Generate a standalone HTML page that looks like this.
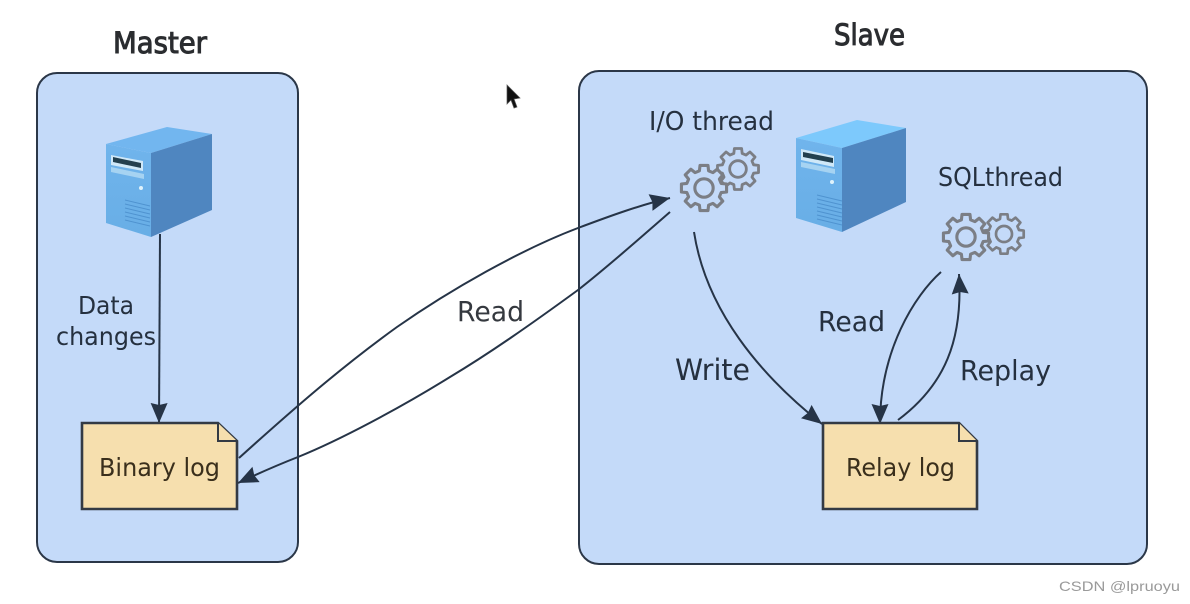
<!DOCTYPE html>
<html>
<head>
<meta charset="utf-8">
<style>
html,body{margin:0;padding:0;background:#fff;width:1190px;height:604px;overflow:hidden}
svg{display:block}
text{font-family:"DejaVu Sans","Liberation Sans",sans-serif;fill:#25303f}
</style>
</head>
<body>
<svg width="1190" height="604" viewBox="0 0 1190 604" xmlns="http://www.w3.org/2000/svg">
<defs>
<marker id="a" markerUnits="userSpaceOnUse" markerWidth="24" markerHeight="20" refX="20" refY="9" orient="auto">
<path d="M0 0.5L20 9L0 17.5L2 9Z" fill="#263447"/>
</marker>
<linearGradient id="f" x1="0" y1="0" x2="0" y2="1"><stop offset="0" stop-color="#70b4ec"/><stop offset="1" stop-color="#68aee6"/></linearGradient>
<symbol id="g" viewBox="-24 -24 48 48" overflow="visible">
<path d="M14.97 -4.01L19.7 -3.47L19.7 3.47L14.97 4.01L13.42 7.75L16.38 11.47L11.47 16.38L7.75 13.42L4.01 14.97L3.47 19.7L-3.47 19.7L-4.01 14.97L-7.75 13.42L-11.47 16.38L-16.38 11.47L-13.42 7.75L-14.97 4.01L-19.7 3.47L-19.7 -3.47L-14.97 -4.01L-13.42 -7.75L-16.38 -11.47L-11.47 -16.38L-7.75 -13.42L-4.01 -14.97L-3.47 -19.7L3.47 -19.7L4.01 -14.97L7.75 -13.42L11.47 -16.38L16.38 -11.47L13.42 -7.75Z" fill="#c4daf9" stroke="#7b7e85" stroke-width="2.7" stroke-linejoin="round"/>
<circle r="8" fill="none" stroke="#7b7e85" stroke-width="2.7"/>
</symbol>
</defs>

<rect x="37" y="73" width="261" height="489" rx="20" fill="#c4daf9" stroke="#2b3748" stroke-width="2"/>
<rect x="579" y="71" width="568" height="493" rx="20" fill="#c4daf9" stroke="#2b3748" stroke-width="2"/>

<text x="113" y="53" font-size="29" textLength="94" lengthAdjust="spacingAndGlyphs" style="fill:#2b2d30;stroke:#2b2d30;stroke-width:1">Master</text>
<text x="834" y="45" font-size="29" textLength="71" lengthAdjust="spacingAndGlyphs" style="fill:#2b2d30;stroke:#2b2d30;stroke-width:1">Slave</text>

<!-- Master server -->
<polygon points="106,144 167,127 212,134 151,153" fill="#72b6ef"/>
<polygon points="106,144 151,153 151,237 106,223" fill="url(#f)"/>
<polygon points="151,153 212,134 212,210 151,237" fill="#4f86c0"/>
<polygon points="111,155 143,161 143,171 111,165" fill="#cfe8f8"/>
<polygon points="113,157 141,163 141,168 113,162" fill="#23404f"/>
<polygon points="111,167 144,174 144,179 111,172" fill="#a6d3f2"/>
<circle cx="141" cy="188" r="2" fill="#dff2fb"/>
<path d="M125 200L150 206M125 204L150 210M125 208L150 214M125 212L150 218M125 216L150 222M125 220L150 226" stroke="#4f93d0" stroke-width="1"/>

<!-- Slave server -->
<polygon points="796,138 857,120 906,128 842,148" fill="#7dc9fc"/>
<polygon points="796,138 842,148 842,232 796,218" fill="url(#f)"/>
<polygon points="842,148 906,128 906,202 842,232" fill="#4f86c0"/>
<polygon points="801,149 834,156 834,167 801,160" fill="#cfe8f8"/>
<polygon points="803,152 833,158 833,163 803,157" fill="#23404f"/>
<polygon points="801,162 835,169 835,174 801,167" fill="#a6d3f2"/>
<circle cx="832" cy="182" r="2" fill="#dff2fb"/>
<path d="M817 195L842 201M817 199L842 205M817 203L842 209M817 207L842 213M817 211L842 217M817 215L842 221M817 219L842 225" stroke="#4f93d0" stroke-width="1"/>

<!-- Gears -->
<use href="#g" x="713" y="144" width="50" height="50"/>
<use href="#g" x="676.5" y="160.5" width="55" height="55"/>
<use href="#g" x="980" y="210" width="48" height="48"/>
<use href="#g" x="938.5" y="209.5" width="55" height="55"/>

<!-- Connectors -->
<g fill="none" stroke="#263447" stroke-width="2">
<path d="M160 234L159 423" marker-end="url(#a)"/>
<path d="M239 458C290 412 340 368 397 327C450 290 520 250 578 228C610 216 640 205 670 198" marker-end="url(#a)"/>
<path d="M670 212C640 238 610 265 578 290C530 325 490 353 450 377C400 408 340 440 298 457C275 466 255 475 238 483" marker-end="url(#a)"/>
<path d="M694 232C706 310 760 375 822 424" marker-end="url(#a)"/>
<path d="M941 272C915 295 880 350 880 424" marker-end="url(#a)"/>
<path d="M898 420C945 385 963 340 959 274" marker-end="url(#a)"/>
</g>

<!-- Docs -->
<path d="M82 423H218L237 441V509H82Z" fill="#f6dfae" stroke="#333a44" stroke-width="2.6"/>
<path d="M218 423V441H237" fill="#f6dfae" stroke="#333a44" stroke-width="2"/>
<path d="M823 423H959L977 441V509H823Z" fill="#f6dfae" stroke="#333a44" stroke-width="2.6"/>
<path d="M959 423V441H977" fill="#f6dfae" stroke="#333a44" stroke-width="2"/>

<!-- Labels -->
<text x="99" y="476" font-size="25" textLength="121" lengthAdjust="spacingAndGlyphs" style="fill:#3a2f1c">Binary log</text>
<text x="846" y="476" font-size="25" textLength="109" lengthAdjust="spacingAndGlyphs" style="fill:#3a2f1c">Relay log</text>
<text x="78" y="314" font-size="25" textLength="56" lengthAdjust="spacingAndGlyphs">Data</text>
<text x="56" y="345" font-size="25" textLength="100" lengthAdjust="spacingAndGlyphs">changes</text>
<text x="457" y="321" font-size="28" textLength="67" lengthAdjust="spacingAndGlyphs" style="fill:#35393f">Read</text>
<text x="675" y="380" font-size="29" textLength="75" lengthAdjust="spacingAndGlyphs">Write</text>
<text x="818" y="331" font-size="28" textLength="67" lengthAdjust="spacingAndGlyphs">Read</text>
<text x="960" y="380" font-size="28" textLength="91" lengthAdjust="spacingAndGlyphs">Replay</text>
<text x="649" y="130" font-size="26" textLength="125" lengthAdjust="spacingAndGlyphs">I/O thread</text>
<text x="938" y="186" font-size="26" textLength="125" lengthAdjust="spacingAndGlyphs">SQLthread</text>

<!-- Cursor -->
<path d="M507 85L507 104L511 100L514 108L517 107L514 99L520 98Z" fill="#111" stroke="#555" stroke-width=".7"/>

<!-- Watermark -->
<text x="1059" y="591" font-size="14" textLength="121" lengthAdjust="spacingAndGlyphs" style="fill:#9a9a9a;font-family:'Liberation Sans',sans-serif">CSDN @lpruoyu</text>
</svg>
</body>
</html>
